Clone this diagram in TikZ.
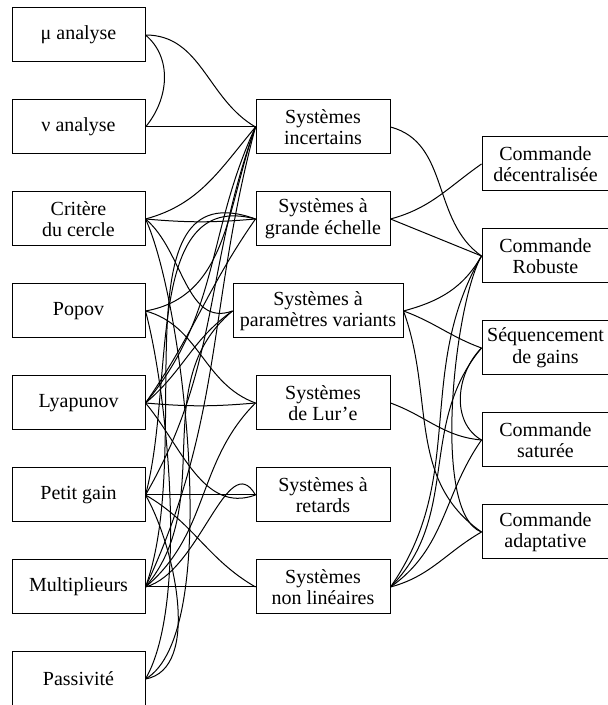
\documentclass[tikz,border=0pt]{standalone}
\usepackage{fontspec}
\setmainfont{Liberation Serif}
\usetikzlibrary{positioning}

\tikzstyle{block} = [align=center,draw=black,line width=0.5pt,font=\fontsize{10}{10.8}\selectfont,rectangle,text centered,minimum height=27pt,inner sep=0pt]
\tikzstyle{method} = [block,minimum width=66.5pt]
\tikzstyle{system} = [block,minimum width=67pt]
\tikzstyle{command} = [block,minimum width=63.5pt]
\tikzstyle{link} = [line width=0.5pt]

\begin{document}
\begin{tikzpicture}[x=0.5pt,y=0.5pt,node distance=46pt]
	\useasboundingbox (0,0) rectangle (607,705);
	\node (mu) [method] at (78.5,670) {μ analyse};
	\node (nu) [method,below of=mu] {ν analyse};
	\node (crit) [method,below of=nu] {Critère\\du cercle};
	\node (popov) [method,below of=crit] {Popov};
	\node (lyap) [method,below of=popov] {Lyapunov};
	\node (pg) [method,below of=lyap] {Petit gain};
	\node (mult) [method,below of=pg] {Multiplieurs};
	\node (pass) [method,below of=mult] {Passivité};
	\node (inc) [system] at (323,578) {Systèmes\\incertains};
	\node (gde) [system,below of=inc] {Systèmes à\\grande échelle};
	\node (pv) [system,below of=gde,xshift=-2.5pt,minimum width=85pt] {Systèmes à\\paramètres variants};
	\node (lure) [system,below of=pv,xshift=2.5pt] {Systèmes\\de Lur’e};
	\node (ret) [system,below of=lure] {Systèmes à\\retards};
	\node (nl) [system,below of=ret] {Systèmes\\non linéaires};
	\node (dec) [command] at (545.5,541) {Commande\\décentralisée};
	\node (rob) [command,below of=dec] {Commande\\Robuste};
	\node (seq) [command,below of=rob] {Séquencement\\de gains};
	\node (sat) [command,below of=seq] {Commande\\saturée};
	\node (adapt) [command,below of=sat] {Commande\\adaptative};
	\draw [link] (mu.east) to[out=-40,in=50] (nu.east);
	\draw [link] (mu.east) to[out=0,in=150] (inc.west);
	\draw [link] (nu.east) -- (inc.west);
	\draw [link] (crit.east) to[out=15,in=230] (inc.west);
	\draw [link] (crit.east) to[out=-5,in=185] (gde.west);
	\draw [link] (crit.east) to[out=-40,in=200] (pv.west);
	\draw [link] (crit.east) to[out=-65,in=30,looseness=0.5] (pass.east);
	\draw [link] (popov.east) to[out=10,in=250] (inc.west);
	\draw [link] (popov.east) to[out=-15,in=160] (lure.west);
	\draw [link] (popov.east) to[out=-75,in=60,looseness=0.6] (pass.east);
	\draw [link] (lyap.east) to[out=50,in=245] (inc.west);
	\draw [link] (lyap.east) to[out=55,in=235] (gde.west);
	\draw [link] (lyap.east) to[out=40,in=215] (pv.west);
	\draw [link] (lyap.east) to[out=-5,in=185] (lure.west);
	\draw [link] (lyap.east) to[out=-50,in=200] (ret.west);
	\draw [link] (pg.east) to[out=60,in=250] (inc.west);
	\draw [link] (pg.east) to[out=75,in=165] (gde.west);
	\draw [link] (pg.east) -- (ret.west);
	\draw [link] (pg.east) to[out=-30,in=150] (nl.west);
	\draw [link] (pg.east) to[out=-60,in=10,looseness=0.8] (pass.east);
	\draw [link] (mult.east) to[out=65,in=255] (inc.west);
	\draw [link] (mult.east) to[out=70,in=160] (gde.west);
	\draw [link] (mult.east) to[out=50,in=220] (pv.west);
	\draw [link] (mult.east) to[out=40,in=225] (lure.west);
	\draw [link] (mult.east) to[out=15,in=120] (ret.west);
	\draw [link] (mult.east) -- (nl.west);
	\draw [link] (inc.east) to[out=-15,in=145] (rob.west);
	\draw [link] (gde.east) to[out=15,in=215] (dec.west);
	\draw [link] (gde.east) -- (rob.west);
	\draw [link] (pv.east) to[out=15,in=240] (rob.west);
	\draw [link] (pv.east) to[out=-20,in=160] (seq.west);
	\draw [link] (pv.east) to[out=-70,in=145] (adapt.west);
	\draw [link] (lure.east) to[out=-20,in=175] (sat.west);
	\draw [link] (nl.east) to[out=55,in=240] (rob.west);
	\draw [link] (nl.east) to[out=45,in=230] (seq.west);
	\draw [link] (nl.east) to[out=35,in=235] (sat.west);
	\draw [link] (nl.east) to[out=15,in=210] (adapt.west);
	\draw [link] (rob.west) to[out=240,in=160,looseness=0.5] (adapt.west);
	\draw [link] (seq.west) to[out=225,in=150] (sat.west);
\end{tikzpicture}
\end{document}
